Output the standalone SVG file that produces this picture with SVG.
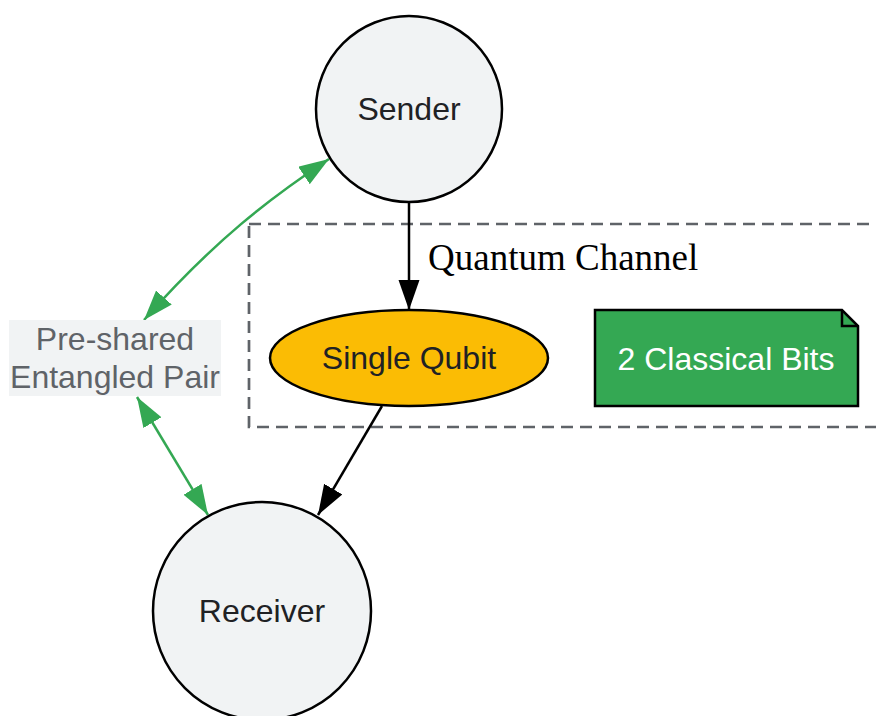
<svg xmlns="http://www.w3.org/2000/svg" width="876" height="716" viewBox="0 0 876 716">
<style>
.node{stroke:#000;stroke-width:2.5}
.lbl{font-family:"Liberation Sans",Arial,sans-serif;font-size:32px;fill:#202124;text-anchor:middle}
.edge{fill:none;stroke-width:2.5}
</style>
<defs>
<marker id="ab" markerUnits="userSpaceOnUse" markerWidth="32" markerHeight="24" refX="30" refY="10.5" orient="auto-start-reverse" viewBox="0 0 32 24">
<path d="M0,0 L30,10.5 L0,21 z" fill="#000"/>
</marker>
<marker id="ag" markerUnits="userSpaceOnUse" markerWidth="32" markerHeight="24" refX="30" refY="10.5" orient="auto-start-reverse" viewBox="0 0 32 24">
<path d="M0,0 L30,10.5 L0,21 z" fill="#34A853"/>
</marker>
</defs>
<rect x="249" y="224" width="640" height="203" fill="none" stroke="#5F6368" stroke-width="2.7" stroke-dasharray="12,7"/>
<text x="428" y="270" font-family="'Liberation Serif','Times New Roman',serif" font-size="37" fill="#000">Quantum Channel</text>
<g id="connectors">
<path class="edge" stroke="#34A853" d="M329,159 C270,198 215,240 144,320" marker-start="url(#ag)" marker-end="url(#ag)"/>
<path class="edge" stroke="#34A853" d="M137,397 L208,515" marker-start="url(#ag)" marker-end="url(#ag)"/>
<path class="edge" stroke="#000" d="M409,202 L409,310" marker-end="url(#ab)"/>
<path class="edge" stroke="#000" d="M382,406 L318,515" marker-end="url(#ab)"/>
</g>
<g id="sender">
<circle class="node" cx="409" cy="109" r="93" fill="#F1F3F4"/>
<text class="lbl" x="409" y="120">Sender</text>
</g>
<g id="receiver">
<circle class="node" cx="262" cy="611" r="109" fill="#F1F3F4"/>
<text class="lbl" x="262" y="622">Receiver</text>
</g>
<g id="qubit">
<ellipse class="node" cx="409" cy="358" rx="139" ry="48" fill="#FBBC04"/>
<text class="lbl" x="409" y="369">Single Qubit</text>
</g>
<g id="bits">
<path class="node" d="M595,310 L842,310 L858,326 L858,406 L595,406 Z" fill="#34A853"/>
<path class="node" d="M842,310 L842,326 L858,326" fill="none"/>
<text class="lbl" x="726" y="370" style="fill:#fff">2 Classical Bits</text>
</g>
<g id="pair">
<rect x="9" y="320" width="212" height="76" fill="#F1F3F4"/>
<text class="lbl" x="115" y="350" style="fill:#5F6368">Pre-shared</text>
<text class="lbl" x="115" y="388" style="fill:#5F6368">Entangled Pair</text>
</g>
</svg>
